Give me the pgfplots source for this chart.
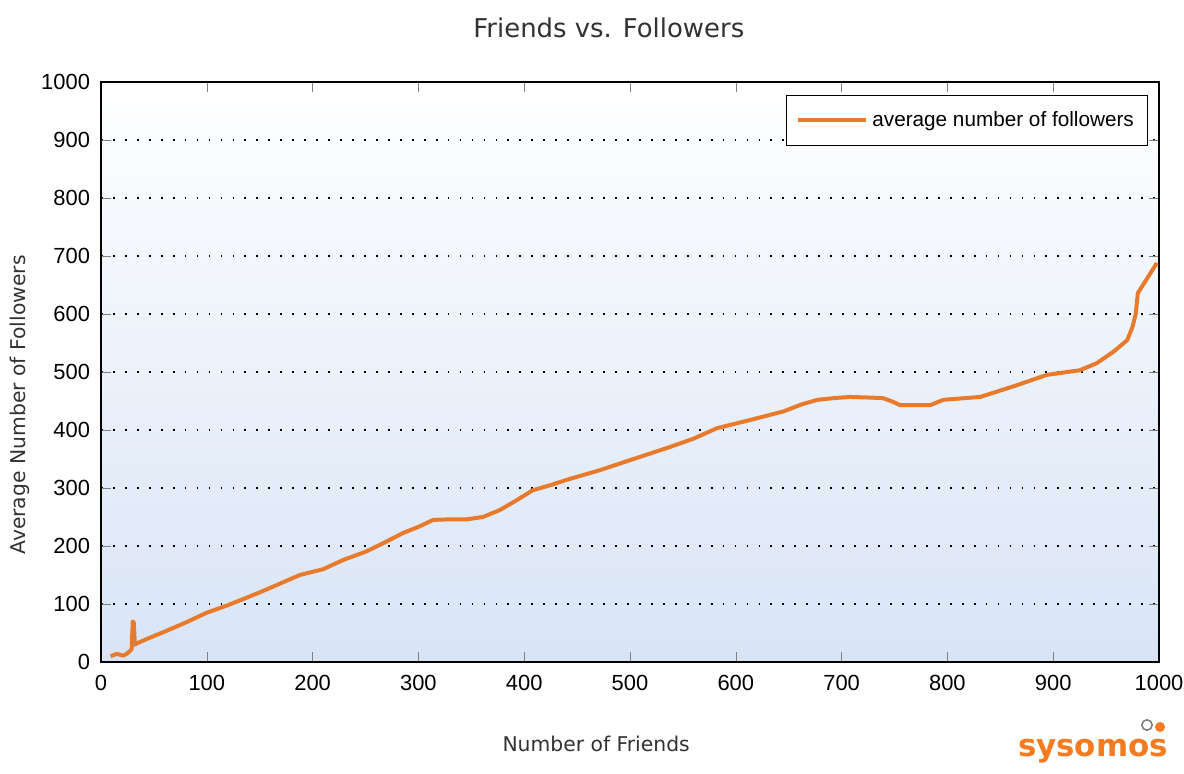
\documentclass[border=0pt]{standalone}
\usepackage{pgfplots}
\pgfplotsset{compat=1.18}
\usepackage{fontspec}
\setmainfont{Liberation Sans}
\newfontfamily\labfont{DejaVu Sans}
\definecolor{lineorange}{RGB}{232,122,44}
\definecolor{logoorange}{RGB}{244,123,32}
\definecolor{bgblue}{RGB}{216,228,246}
\definecolor{txtgray}{RGB}{50,50,50}

\begin{document}
\begin{tikzpicture}
\begin{axis}[
    name=main,
    scale only axis,
    width=529bp, height=290bp,
    xmin=0, xmax=1000,
    ymin=0, ymax=1000,
    xtick={0,100,...,1000},
    ytick={0,100,...,1000},
    tick align=inside,
    major tick length=5bp,
    ymajorgrids=true,
    grid style={black, line width=0.9pt, dash pattern=on 0.9pt off 5.1pt},
    axis line style={black, line width=0.8pt},
    axis background/.style={shade, top color=white, middle color={bgblue!35!white}, bottom color=bgblue},
    /pgf/number format/assume math mode=true,
    /pgf/number format/1000 sep={},
    tick label style={font=\fontsize{11}{13}\selectfont, text=black},
    xticklabel style={yshift=-3bp, inner xsep=0pt},
    yticklabel style={xshift=-2bp},
    title={Friends vs. Followers},
    title style={at={(axis description cs:0.48,1)}, anchor=center, yshift=21bp,
        font=\labfont\fontsize{13}{15}\selectfont, text=txtgray},
    xlabel={Number of Friends},
    xlabel style={at={(axis description cs:0.468,0)}, anchor=center, yshift=-41bp,
        font=\labfont\fontsize{10.2}{12}\selectfont, text=txtgray},
    ylabel={Average Number of Followers},
    ylabel style={at={(axis description cs:-0.0766,0.443)}, anchor=center,
        font=\labfont\fontsize{10.2}{12}\selectfont, text=txtgray},
    legend style={at={(axis description cs:0.990,0.978)}, anchor=north east,
        draw=black, line width=0.6pt, fill=white,
        font=\fontsize{10.4}{12}\selectfont,
        inner xsep=5bp, inner ysep=6bp},
    legend image code/.code={\draw[#1, line width=2pt] (0bp,0bp) -- (34bp,0bp);},
]
\addplot[color=lineorange, line width=2pt, line join=round]
    coordinates {
    (9,10)(15,14)(21,11)(25,15)(29,22)(30,70)(31,68)(32,30)(35,33)(45,41)
    (61,53)(80,68)(100,85)(120,98)(150,120)(188,150)(210,160)(229,176)
    (250,190)(267,205)(285,222)(300,233)(314,245)(330,246)(346,246)
    (361,250)(377,262)(392,278)(408,296)(425,305)(440,314)(472,331)
    (500,348)(535,369)(560,385)(582,403)(613,417)(645,432)(662,444)
    (677,452)(693,455)(708,457)(725,456)(739,455)(748,449)(755,443)
    (784,443)(796,452)(831,457)(862,475)(894,495)(925,503)(941,515)
    (957,535)(970,555)(975,578)(978,600)(980,636)(988,659)(998,688)
    };
\addlegendentry{average number of followers}
\end{axis}
% logo
\node[anchor=base, text=logoorange, inner sep=0pt, font=\labfont\bfseries\fontsize{15.5}{17}\selectfont]
    at ([xshift=496bp,yshift=-47bp]main.south west) {sysomos};
\draw[gray, line width=0.8pt] ([xshift=523bp,yshift=-31.5bp]main.south west) circle (2.6bp);
\fill[logoorange] ([xshift=529.5bp,yshift=-32.5bp]main.south west) circle (2.5bp);
% page frame
\path ([xshift=-50.5bp,yshift=-56bp]main.south west) rectangle ++(592bp,387bp);
\end{tikzpicture}
\end{document}
